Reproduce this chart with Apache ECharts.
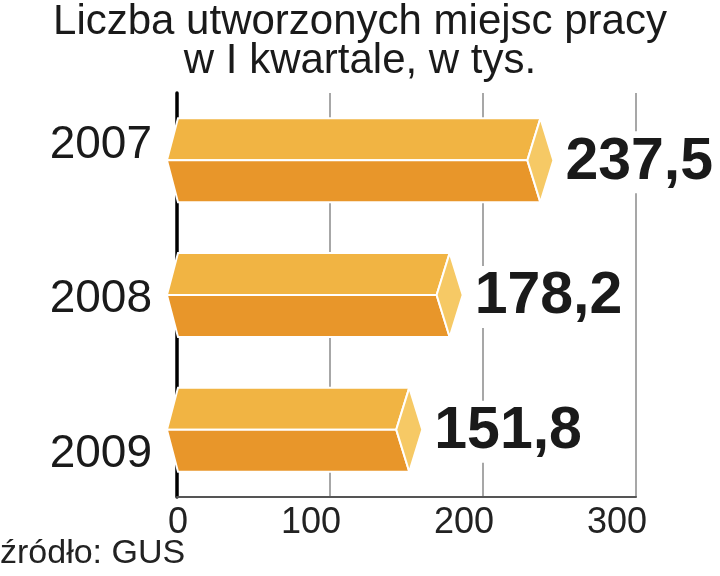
<!DOCTYPE html>
<html>
<head>
<meta charset="utf-8">
<script src="https://cdn.jsdelivr.net/npm/echarts@6/dist/echarts.min.js"></script>
<style>html,body{margin:0;padding:0;background:#fff}#c{width:720px;height:576px}</style>
</head>
<body>
<div id="c"></div>
<script>
const titleText = 'Liczba utworzonych miejsc pracy\nw I kwartale, w tys.';
const sourceText = 'źródło: GUS';
const categories = ['2007', '2008', '2009'];
const values = [237.5, 178.2, 151.8];
const xTicks = [0, 100, 200, 300];

const chart = echarts.init(document.getElementById('c'), null, {renderer: 'canvas'});

const COLORS = {top: '#F1B443', bottom: '#E8962A', cap: '#F6C965'};

function renderItem(params, api) {
  const cat = api.value(0);
  const val = api.value(1);
  const p0 = api.coord([0, cat]);
  const pv = api.coord([val, cat]);
  const band = api.size([0, 1])[1];
  const h = band * 0.312;
  const d = h * 0.31;
  const x0 = p0[0], xv = pv[0], yc = pv[1];
  const tip = x0 + 1 - d * 0.85;
  const stroke = {stroke: '#fff', lineWidth: 2, lineJoin: 'miter'};
  return {
    type: 'group',
    children: [
      {type: 'polygon', shape: {points: [[x0 + 1, yc - h], [xv, yc - h], [xv - d, yc], [tip, yc]]},
        style: Object.assign({fill: COLORS.top}, stroke)},
      {type: 'polygon', shape: {points: [[tip, yc], [xv - d, yc], [xv, yc + h], [x0 + 1, yc + h]]},
        style: Object.assign({fill: COLORS.bottom}, stroke)},
      {type: 'polygon', shape: {points: [[xv, yc - h], [xv + d, yc], [xv, yc + h], [xv - d, yc]]},
        style: Object.assign({fill: COLORS.cap}, stroke)},
      {type: 'text', x: xv + d + 12, y: yc + 2,
        style: {text: val.toFixed(1).replace('.', ','), fill: '#1a1a1a',
          font: 'bold 59px "Liberation Sans", Arial, sans-serif',
          align: 'left', verticalAlign: 'middle', backgroundColor: '#fff', lineHeight: 62}}
    ]
  };
}

const option = {
  backgroundColor: '#fff',
  animation: false,
  title: [
    {text: titleText, left: 'center', top: 3,
      textStyle: {fontFamily: '"Liberation Sans", Arial, sans-serif', fontSize: 42,
        fontWeight: 'normal', color: '#1a1a1a', lineHeight: 39}, padding: 0, itemGap: 0},
    {text: sourceText, left: 0, top: 534,
      textStyle: {fontFamily: '"Liberation Sans", Arial, sans-serif', fontSize: 34,
        fontWeight: 'normal', color: '#222', lineHeight: 40}, padding: 0}
  ],
  grid: [
    {left: 177, right: 84, top: 93, bottom: 79, containLabel: false},
    {left: 177, right: 84, top: 68, bottom: 45, containLabel: false}
  ],
  xAxis: [
    {type: 'value', gridIndex: 0, min: xTicks[0], max: xTicks[xTicks.length - 1], interval: 100,
      axisLine: {show: true, lineStyle: {color: '#555', width: 2}},
      axisTick: {show: false},
      splitLine: {show: true, lineStyle: {color: '#8a8a8a', width: 1.5}},
      axisLabel: {fontFamily: '"Liberation Sans", Arial, sans-serif', fontSize: 36, color: '#222',
        margin: 8, align: 'right', padding: [0, -11, 0, 0]}},
    {type: 'value', gridIndex: 1, min: 0, max: 1, show: false}
  ],
  yAxis: [
    {type: 'category', gridIndex: 0, data: categories, inverse: true,
      axisLine: {show: true, lineStyle: {color: '#000', width: 3.5}},
      axisTick: {show: false}, axisLabel: {show: false}, splitLine: {show: false}},
    {type: 'category', gridIndex: 1, data: categories, inverse: true,
      axisLine: {show: false}, axisTick: {show: false}, splitLine: {show: false},
      axisLabel: {fontFamily: '"Liberation Sans", Arial, sans-serif', fontSize: 46, color: '#1a1a1a', margin: 25}}
  ],
  series: [{
    type: 'custom',
    xAxisIndex: 0, yAxisIndex: 0,
    renderItem: renderItem,
    encode: {x: 1, y: 0},
    data: values.map((v, i) => [i, v]),
    clip: false
  }]
};
chart.setOption(option);
</script>
</body>
</html>
